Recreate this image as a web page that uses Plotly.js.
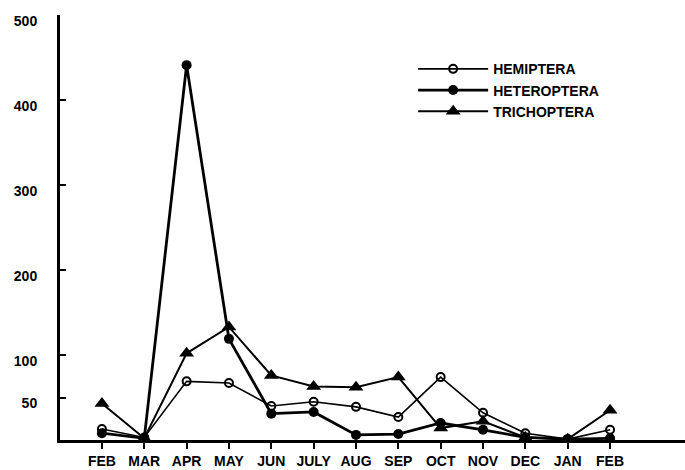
<!DOCTYPE html>
<html>
<head>
<meta charset="utf-8">
<script src="https://cdn.plot.ly/plotly-3.0.1.min.js"></script>
<style>body{margin:0;background:#fff}#chart{width:685px;height:470px}</style>
</head>
<body>
<div id="chart"></div>
<script>
var months = ["FEB","MAR","APR","MAY","JUN","JULY","AUG","SEP","OCT","NOV","DEC","JAN","FEB"];
var monthIndex = [0,1,2,3,4,5,6,7,8,9,10,11,12];
var hemiptera    = [13, 3, 69, 67, 40, 45, 39, 27, 74, 32, 8, 1, 12];
var heteroptera  = [8, 2, 441, 119, 31, 33, 6, 7, 20, 12, 3, 1, 2];
var trichoptera  = [43, 2, 102, 133, 76, 63, 62, 74, 14, 22, 3, 1, 35];
var yTicks = [50, 100, 200, 300, 400, 500];

var fontFam = "'Liberation Sans', Arial, sans-serif";
var traces = [
  {x: monthIndex, y: hemiptera, name: "HEMIPTERA", mode: "lines+markers",
   line: {color: "#000", width: 1.6},
   marker: {symbol: "circle-open", size: 8, color: "#000", line: {width: 2, color: "#000"}}},
  {x: monthIndex, y: heteroptera, name: "HETEROPTERA", mode: "lines+markers",
   line: {color: "#000", width: 2.8},
   marker: {symbol: "circle", size: 10, color: "#000"}},
  {x: monthIndex, y: trichoptera, name: "TRICHOPTERA", mode: "lines+markers",
   line: {color: "#000", width: 2},
   marker: {symbol: "triangle-up", size: 13, color: "#000"}}
];
var layout = {
  width: 685, height: 470,
  margin: {l: 60, r: 0, t: 15, b: 30},
  paper_bgcolor: "#fff", plot_bgcolor: "#fff",
  showlegend: true,
  legend: {x: 0.565, y: 0.91, xanchor: "left", yanchor: "top",
           font: {family: fontFam, size: 14, color: "#000", weight: "bold"},
           bgcolor: "rgba(0,0,0,0)", tracegroupgap: 0, itemwidth: 70},
  xaxis: {range: [-0.99, 13.77], tickvals: monthIndex, ticktext: months,
          showgrid: false, zeroline: false, showline: true, linewidth: 3, linecolor: "#000",
          ticks: "outside", ticklen: 6, tickwidth: 2, tickcolor: "#000",
          tickfont: {family: fontFam, size: 14, color: "#000", weight: "bold"}},
  yaxis: {range: [0, 500], tickvals: yTicks, ticktext: yTicks.map(String),
          showgrid: false, zeroline: false, showline: true, linewidth: 3, linecolor: "#000",
          ticks: "inside", ticklen: 6, tickwidth: 2, tickcolor: "#000",
          ticklabelstandoff: 17, ticklabelshift: 6,
          tickfont: {family: fontFam, size: 14, color: "#000", weight: "bold"}}
};
Plotly.newPlot("chart", traces, layout, {displayModeBar: false, staticPlot: true});
</script>
</body>
</html>
